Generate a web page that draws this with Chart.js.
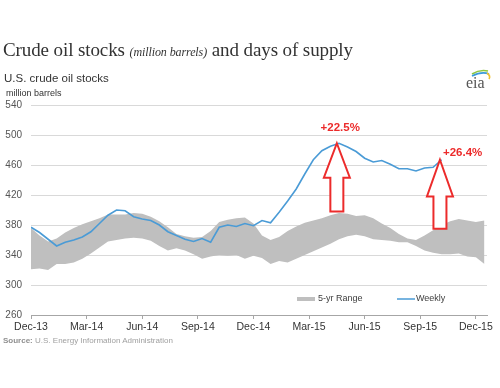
<!DOCTYPE html>
<html>
<head>
<meta charset="utf-8">
<script src="https://cdn.jsdelivr.net/npm/chart.js@4"></script>
<style>
  body { margin: 0; background: #fff; }
  #wrap { position: relative; width: 500px; height: 388px; overflow: hidden; }
  #chart { position: absolute; left: 0; top: 0; }
  .txt { position: absolute; white-space: nowrap; }
  #title { left: 3px; top: 39px; font: 19px "Liberation Serif", serif; color: #333; line-height: 21px; letter-spacing: -0.1px; }
  #title i { font-size: 12px; }
  #sub { left: 4px; top: 72px; font: 11.5px "Liberation Sans", Arial, sans-serif; color: #333; line-height: 13px; }
  #unit { left: 6px; top: 88px; font: 9px "Liberation Sans", Arial, sans-serif; color: #333; line-height: 10px; }
  #source { left: 3px; top: 336px; font: 8px "Liberation Sans", Arial, sans-serif; color: #a0a0a0; line-height: 9px; }
  #source b { color: #8f8f8f; }
  #logo { left: 463px; top: 66px; width: 32px; height: 30px; }
  #logo span { position: absolute; left: 3px; top: 9px; font: 16px "Liberation Serif", serif; color: #555; line-height: 16px; }
</style>
</head>
<body>
<div id="wrap">
  <canvas id="chart" width="500" height="388"></canvas>
  <div class="txt" id="title">Crude oil stocks <i>(million barrels)</i> and days of supply</div>
  <div class="txt" id="sub">U.S. crude oil stocks</div>
  <div class="txt" id="unit">million barrels</div>
  <div class="txt" id="source"><b>Source:</b> U.S. Energy Information Administration</div>
  <div class="txt" id="logo">
    <svg width="32" height="14" style="position:absolute;left:0;top:0">
      <path d="M9 8 Q17 3 25 5" stroke="#8dc63f" stroke-width="1.6" fill="none"/>
      <path d="M9 10 Q19 5 26 8" stroke="#3a9ad9" stroke-width="1.6" fill="none"/>
      <path d="M24 7 Q28 10 26 13" stroke="#f2c12e" stroke-width="1.6" fill="none"/>
    </svg>
    <span>eia</span>
  </div>
</div>
<script>
// weeks since 1 Dec 2013, every second week
const weeks = [0, 2, 4, 6, 8, 10, 12, 14, 16, 18, 20, 22, 24, 26, 28, 30, 32, 34,
  36, 38, 40, 42, 44, 46, 48, 50, 52, 54, 56, 58, 60, 62, 64, 66, 68, 70, 72, 74,
  76, 78, 80, 82, 84, 86, 88, 90, 92, 94, 96, 98, 100, 102, 104, 106];

const weekly = [377, 370, 361, 352, 357, 360, 364, 371, 382, 393, 400, 399, 391,
  388, 386, 380, 371, 366, 361, 358, 362, 357, 377, 380, 378, 382, 379, 386, 383,
  397, 412, 428, 448, 467, 479, 485, 489, 484, 478, 469, 464, 466, 461, 455, 455,
  452, 456, 457, 467];

const rangeHigh = [376, 366, 358, 362, 370, 376, 381, 385, 389, 394, 394, 394, 396,
  395, 391, 385, 377, 368, 365, 363, 364, 372, 384, 387, 389, 390, 382, 366, 360,
  364, 372, 378, 383, 386, 389, 393, 396, 395, 392, 393, 389, 382, 376, 368, 362,
  360, 366, 373, 380, 385, 388, 386, 384, 386];

const rangeLow = [321, 322, 320, 328, 328, 330, 335, 342, 350, 358, 360, 362, 363,
  362, 359, 352, 346, 349, 346, 341, 335, 338, 340, 339, 340, 335, 339, 336, 328,
  332, 330, 335, 340, 345, 350, 355, 361, 365, 367, 365, 361, 360, 359, 357, 357,
  352, 346, 343, 341, 341, 342, 338, 337, 328];

const tickWeeks = [0, 13, 26, 39, 52, 65, 78, 91, 104];
const tickLabels = ["Dec-13", "Mar-14", "Jun-14", "Sep-14", "Dec-14", "Mar-15", "Jun-15", "Sep-15", "Dec-15"];

const callouts = [
  { week: 71.5, tip: 489, head: 443, base: 398, label: "+22.5%", labelWeek: 72.3, labelY: 510, align: "center" },
  { week: 95.6, tip: 467, head: 418, base: 375, label: "+26.4%", labelWeek: 96.3, labelY: 476, align: "left" },
];

const toPoints = (vals) => vals.map((v, i) => ({ x: weeks[i], y: v }));

const RED = "#ec2b2b";

const overlay = {
  id: "overlay",
  afterDatasetsDraw(chart) {
    const { ctx, scales } = chart;
    const x = scales.x, y = scales.y;
    ctx.save();
    callouts.forEach((c) => {
      const cx = x.getPixelForValue(c.week);
      const tipY = y.getPixelForValue(c.tip);
      const headY = y.getPixelForValue(c.head);
      const baseY = y.getPixelForValue(c.base);
      const hw = 13, sw = 6.5;
      ctx.beginPath();
      ctx.moveTo(cx, tipY);
      ctx.lineTo(cx + hw, headY);
      ctx.lineTo(cx + sw, headY);
      ctx.lineTo(cx + sw, baseY);
      ctx.lineTo(cx - sw, baseY);
      ctx.lineTo(cx - sw, headY);
      ctx.lineTo(cx - hw, headY);
      ctx.closePath();
      ctx.fillStyle = "#fff";
      ctx.fill();
      ctx.lineWidth = 2;
      ctx.strokeStyle = RED;
      ctx.stroke();

      ctx.fillStyle = RED;
      ctx.font = "bold 11.5px 'Liberation Sans', Arial, sans-serif";
      ctx.textAlign = c.align;
      ctx.textBaseline = "middle";
      const lx = c.align === "left" ? cx + 3 : x.getPixelForValue(c.labelWeek);
      ctx.fillText(c.label, lx, y.getPixelForValue(c.labelY));
    });

    // legend inside the plot, lower right
    ctx.font = "9px 'Liberation Sans', Arial, sans-serif";
    ctx.textAlign = "left";
    ctx.textBaseline = "middle";
    ctx.fillStyle = "#bfbfbf";
    ctx.fillRect(297, 297, 18, 4);
    ctx.fillStyle = "#404040";
    ctx.fillText("5-yr Range", 318, 299);
    ctx.strokeStyle = "#4a9bd6";
    ctx.lineWidth = 1.5;
    ctx.beginPath();
    ctx.moveTo(397, 299);
    ctx.lineTo(415, 299);
    ctx.stroke();
    ctx.fillText("Weekly", 416, 299);
    ctx.restore();
  },
};

new Chart(document.getElementById("chart"), {
  type: "line",
  data: {
    datasets: [
      {
        label: "5-yr Range",
        data: toPoints(rangeHigh),
        borderWidth: 0,
        pointRadius: 0,
        backgroundColor: "#bfbfbf",
        fill: "+1",
        order: 2,
      },
      {
        label: "5-yr Range low",
        data: toPoints(rangeLow),
        borderWidth: 0,
        pointRadius: 0,
        fill: false,
        order: 2,
      },
      {
        label: "Weekly",
        data: toPoints(weekly),
        borderColor: "#4a9bd6",
        borderWidth: 1.6,
        pointRadius: 0,
        fill: false,
        order: 1,
      },
    ],
  },
  options: {
    responsive: false,
    animation: false,
    events: [],
    layout: { padding: { top: 105, right: 13, bottom: 51, left: 0 } },
    plugins: {
      legend: { display: false },
      tooltip: { enabled: false },
    },
    scales: {
      x: {
        type: "linear",
        min: 0,
        max: 106.6,
        afterBuildTicks: (scale) => {
          scale.ticks = tickWeeks.map((v) => ({ value: v }));
        },
        afterFit: (scale) => {
          scale.height = 22;
        },
        ticks: {
          autoSkip: false,
          maxRotation: 0,
          padding: 2,
          color: "#333",
          font: { family: "'Liberation Sans', Arial, sans-serif", size: 10.5 },
          callback: (v) => tickLabels[tickWeeks.indexOf(v)],
        },
        grid: { drawOnChartArea: false, tickLength: 4, color: "#a6a6a6" },
        border: { color: "#a6a6a6" },
      },
      y: {
        min: 260,
        max: 540,
        afterFit: (scale) => {
          scale.width = 31;
        },
        ticks: {
          stepSize: 40,
          padding: 9,
          color: "#555",
          font: { family: "'Liberation Sans', Arial, sans-serif", size: 10 },
        },
        grid: { color: "#d9d9d9", drawTicks: false },
        border: { display: false },
      },
    },
  },
  plugins: [overlay],
});
</script>
</body>
</html>
